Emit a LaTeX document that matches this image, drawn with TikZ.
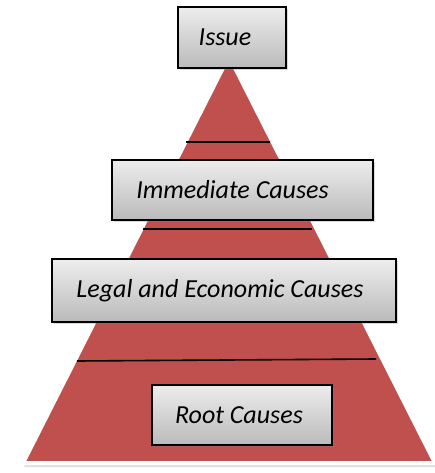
\documentclass[tikz,border=0pt]{standalone}
\usepackage{fontspec}
\setmainfont{Carlito}
\usepackage{tikz}
\usepackage{xcolor}
\usetikzlibrary{shadows}

\definecolor{pyrred}{HTML}{C0504D}
\tikzset{
  causebox/.style={draw=black, line width=1.2pt, top color=black!7, bottom color=black!27,
    drop shadow={shadow xshift=2pt, shadow yshift=-2pt, opacity=0.3},
    font=\fontsize{26}{30}\selectfont\itshape, inner sep=0pt},
  tier/.style={line width=1.6pt, black}
}

\begin{document}
\begin{tikzpicture}[x=1pt,y=-1pt]
\useasboundingbox (0,0) rectangle (435,473);
% pyramid with white rim and soft shadow
\fill[black!12] (230,58) -- (437,467) -- (24,467) -- cycle;
\fill[pyrred, draw=white, line width=4pt, line join=round] (229,56) -- (435,463) -- (23,463) -- cycle;
% level lines
\draw[tier] (186,142) -- (270,142);
\draw[tier] (143,229) -- (312,229);
\draw[tier] (77,361) -- (376,359);
% boxes
\node[causebox, minimum width=108pt, minimum height=61pt] (issue) at (232,37.5) {Issue\kern14pt};
\node[causebox, minimum width=261pt, minimum height=60pt] (immediate) at (242.5,190) {Immediate Causes\kern20pt};
\node[causebox, minimum width=344pt, minimum height=63pt] (legal) at (224,290.5) {Legal and Economic Causes\kern8pt};
\node[causebox, minimum width=180pt, minimum height=60pt] (root) at (242,415) {Root Causes\kern6pt};
\end{tikzpicture}
\end{document}
